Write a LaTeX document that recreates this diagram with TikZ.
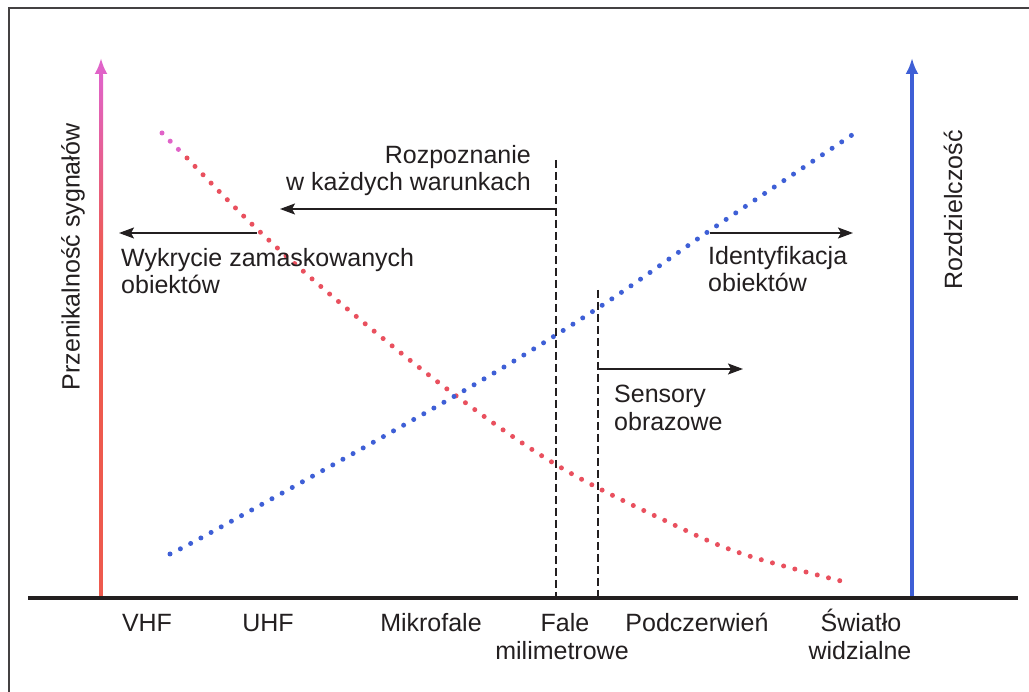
\documentclass[tikz,border=0pt]{standalone}
\usepackage{fontspec}
\setmainfont{Liberation Sans}
\usetikzlibrary{arrows.meta, positioning}

\definecolor{penred}{HTML}{EE5A4E}
\definecolor{penpink}{HTML}{E063C8}
\definecolor{resblue}{HTML}{3E5FD6}
\definecolor{dotred}{HTML}{E9505E}
\definecolor{ink}{HTML}{231F20}

\tikzset{
  lbl/.style={font=\fontsize{25}{27.5}\selectfont, text=ink, inner sep=0pt},
  bandlbl/.style={lbl, anchor=base},
  spanarrow/.style={draw=ink, line width=1.4pt, -{Stealth[length=15pt,width=11pt,inset=3pt]}},
  limitline/.style={draw=ink, line width=2.2pt, dash pattern=on 8pt off 4pt},
  dotline/.style={line width=5pt, line cap=round, dash pattern=on 0pt off 11.6pt},
  sideaxis/.style={line width=4pt, -{Latex[length=16pt,width=13pt]}},
}

\begin{document}
\begin{tikzpicture}[x=1pt,y=-1pt]

\clip (0,0) rectangle (1029,692);
\fill[white] (0,0) rectangle (1029,692);
\draw[ink!85, line width=1.6pt] (9,8) rectangle (1040,710);

% Axes
\coordinate (xl) at (28,598);
\coordinate (xr) at (1018,598);
\coordinate (pb) at (101,596);
\coordinate (pt) at (101,58);
\coordinate (rb) at (912,596);
\coordinate (rt) at (912,58);
\shade[top color=penpink, bottom color=penred] (99,76) rectangle (103,260);
\fill[penred] (99,260) rectangle (103,596);
\draw[sideaxis, penpink] (101,80) -- (pt);
\draw[sideaxis, resblue] (rb) -- (rt);
\draw[ink, line width=4.5pt] (xl) -- (xr);

\node[lbl, rotate=90] (pen) at (73,257) {Przenikalność sygnałów};
\node[lbl, rotate=90] (res) at (953,210) {Rozdzielczość};

% Bands
\node[bandlbl] (vhf) at (147,631) {VHF};
\node[bandlbl] (uhf) at (268,631) {UHF};
\node[bandlbl] (mikro) at (431,631) {Mikrofale};
\node[bandlbl] (fale) at (565,631) {Fale};
\node[bandlbl] (mili) at (562,659) {milimetrowe};
\node[bandlbl] (ir) at (697,631) {Podczerwień};
\node[bandlbl] (vis) at (861,631) {Światło};
\node[bandlbl] (vis2) at (860,659) {widzialne};

% Curves
\draw[dotline, penpink] (162,133) -- (179,150);
\draw[dotline, dotred] plot[smooth, tension=0.6] coordinates {(187,158) (258,230) (345,307) (455,395) (560,467) (668,522) (743,554) (845,582)};
\draw[dotline, resblue] plot[smooth, tension=0.6] coordinates {(170,554) (230,522) (460,393) (598,308) (712,229) (855,133)};

% Limits
\coordinate (mmtop) at (556,160);
\coordinate (mmbot) at (556,596);
\coordinate (irtop) at (598,290);
\coordinate (irbot) at (598,596);
\draw[limitline] (mmtop) -- (mmbot);
\draw[limitline] (irtop) -- (irbot);

% Ranges
\coordinate (recog) at (556,209);
\coordinate (recogend) at (280,209);
\coordinate (detect) at (257,233);
\coordinate (detectend) at (119,233);
\coordinate (ident) at (710,233);
\coordinate (identend) at (853,233);
\coordinate (imag) at (598,369);
\coordinate (imagend) at (743,369);
\draw[spanarrow] (recog) -- (recogend);
\draw[spanarrow] (detect) -- (detectend);
\draw[spanarrow] (ident) -- (identend);
\draw[spanarrow] (imag) -- (imagend);

\node[lbl, align=right, anchor=north east] (recogtxt) at (531,145) {Rozpoznanie\\w każdych warunkach};
\node[lbl, align=left, anchor=north west] (detecttxt) at (121,248) {Wykrycie zamaskowanych\\obiektów};
\node[lbl, align=left, anchor=north west] (identtxt) at (708,246) {Identyfikacja\\obiektów};
\node[lbl, align=left, anchor=north west] (imagtxt) at (614,385) {Sensory\\obrazowe};

\end{tikzpicture}
\end{document}
